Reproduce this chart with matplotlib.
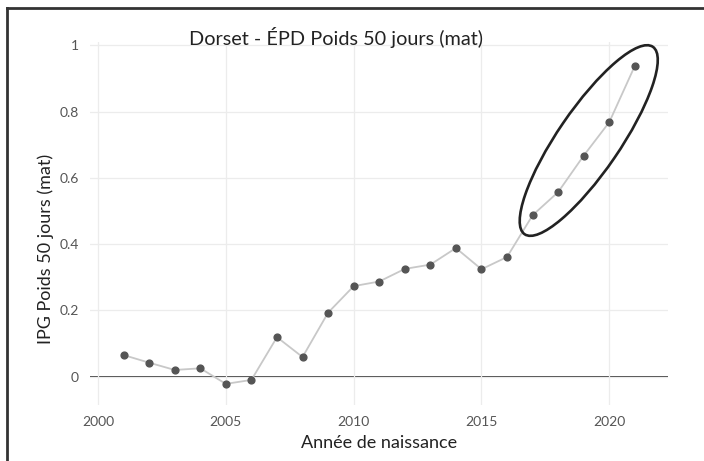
import matplotlib.pyplot as plt
import numpy as np
from matplotlib.patches import Ellipse
from matplotlib.lines import Line2D

years = [2001, 2002, 2003, 2004, 2005, 2006, 2007, 2008, 2009, 2010, 2011,
         2012, 2013, 2014, 2015, 2016, 2017, 2018, 2019, 2020, 2021]
ipg = [0.065, 0.042, 0.020, 0.025, -0.022, -0.010, 0.119, 0.059, 0.193, 0.273,
       0.287, 0.325, 0.338, 0.388, 0.324, 0.361, 0.487, 0.557, 0.667, 0.768, 0.938]
highlight_years = [2017, 2021]
x_ticks = [2000, 2005, 2010, 2015, 2020]
y_ticks = [0, 0.2, 0.4, 0.6, 0.8, 1]
y_tick_labels = ["0", "0.2", "0.4", "0.6", "0.8", "1"]

plt.rcParams['font.family'] = ['Lato', 'DejaVu Sans']


def main():
    fig = plt.figure(figsize=(7.04, 4.61), dpi=100)
    ax = fig.add_axes([0.128, 0.122, 0.821, 0.787])

    ax.plot(years, ipg, color="#c8c8c8", lw=1.3, zorder=2)
    ax.scatter(years, ipg, s=24, color="#555555", zorder=3)
    ax.axhline(0, color="#444444", lw=1.4, zorder=1)

    ax.set_xlim(1999.69, 2022.3)
    ax.set_ylim(-0.085, 1.01)
    ax.set_xticks(x_ticks)
    ax.set_yticks(y_ticks)
    ax.set_yticklabels(y_tick_labels)
    ax.grid(True, color="#ececec", lw=0.9, zorder=0)
    for s in ax.spines.values():
        s.set_visible(False)
    ax.tick_params(length=0, colors="#555555", labelsize=10, pad=8)

    ax.set_title("Dorset - ÉPD Poids 50 jours (mat)", fontsize=14.3, color="#222222",
                 x=0.425, y=1.0, pad=-2)
    ax.set_xlabel("Année de naissance", fontsize=13, color="#222222", labelpad=5)
    ax.set_ylabel("IPG Poids 50 jours (mat)", fontsize=13, color="#222222")
    ax.yaxis.set_label_coords(-0.063, 0.43)

    # ellipse around the recent years, placed in pixel space from the data
    i0, i1 = years.index(highlight_years[0]), years.index(highlight_years[1])
    p0 = ax.transData.transform((years[i0], ipg[i0]))
    p1 = ax.transData.transform((years[i1], ipg[i1]))
    center = (p0 + p1) / 2 + np.array([5, 0])
    dx, dy = p1 - p0
    angle = np.degrees(np.arctan2(dy, dx))
    length = np.hypot(dx, dy) + 46
    ell = Ellipse(center, length, 62, angle=angle, fill=False, ec="#222222", lw=1.9,
                  transform=None, zorder=4)
    fig.add_artist(ell)

    # border (top and left visible)
    fig.add_artist(Line2D([7 / 704, 7 / 704], [0, 1 - 8 / 461], color="#333333", lw=2,
                          transform=fig.transFigure))
    fig.add_artist(Line2D([7 / 704, 1], [1 - 8 / 461, 1 - 8 / 461], color="#333333", lw=2,
                          transform=fig.transFigure))

    fig.savefig("out.png", dpi=100)


if __name__ == "__main__":
    main()
